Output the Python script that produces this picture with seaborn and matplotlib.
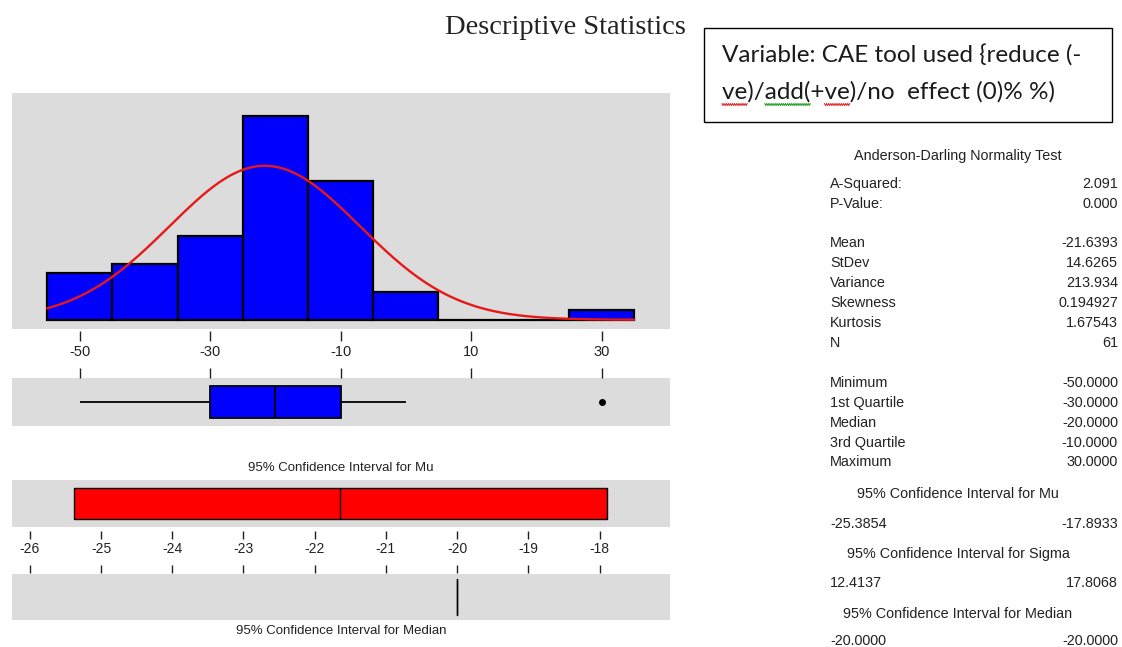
import numpy as np
import pandas as pd
import matplotlib
matplotlib.use("Agg")
import matplotlib.pyplot as plt
import seaborn as sns
from matplotlib.patches import Rectangle
from matplotlib.font_manager import FontProperties

# ---------------- data ----------------
bin_values = [-50, -40, -30, -20, -10, 0, 10, 20, 30]
bin_counts = [5, 6, 9, 22, 15, 3, 0, 0, 1]
bin_edges = [-55, -45, -35, -25, -15, -5, 5, 15, 25, 35]
hist_ticks = [-50, -30, -10, 10, 30]
ci_ticks = [-26, -25, -24, -23, -22, -21, -20, -19, -18]

mean_val = -21.6393
stdev_val = 14.6265
n_obs = 61
ci_mu = [-25.3854, -17.8933]
ci_median = [-20.0, -20.0]

title_text = "Descriptive Statistics"
variable_lines = ["Variable: CAE tool used {reduce (-", "ve)/add(+ve)/no  effect (0)% %)"]

ad_title = "Anderson-Darling Normality Test"
stat_rows = [
    ("A-Squared:", "2.091", 184),
    ("P-Value:", "0.000", 204),
    ("Mean", "-21.6393", 243),
    ("StDev", "14.6265", 263),
    ("Variance", "213.934", 283),
    ("Skewness", "0.194927", 303),
    ("Kurtosis", "1.67543", 323),
    ("N", "61", 343),
    ("Minimum", "-50.0000", 383),
    ("1st Quartile", "-30.0000", 403),
    ("Median", "-20.0000", 423),
    ("3rd Quartile", "-10.0000", 443),
    ("Maximum", "30.0000", 462),
]
ci_headers = [
    ("95% Confidence Interval for Mu", 494, "-25.3854", "-17.8933", 524),
    ("95% Confidence Interval for Sigma", 554, "12.4137", "17.8068", 583),
    ("95% Confidence Interval for Median", 614, "-20.0000", "-20.0000", 641),
]

# ---------------- style ----------------
sns.set_style("white")
plt.rcParams["font.family"] = ["Liberation Sans", "DejaVu Sans"]

W, H = 1122, 647
fig = plt.figure(figsize=(W / 100, H / 100), dpi=100)
fig.patch.set_facecolor("white")


def ax_rect(x0, y0, x1, y1):
    return [x0 / W, 1 - y1 / H, (x1 - x0) / W, (y1 - y0) / H]


def fx(x):
    return x / W


def fy(y):
    return 1 - y / H


GRAY = "#dcdcdc"
BLUE = "#0000ff"
RED = "#ff0000"
TXT = "#222222"
PX = 0.72  # points per pixel

ax_h = fig.add_axes(ax_rect(12, 93, 670, 329))
ax_b = fig.add_axes(ax_rect(12, 378, 670, 426))
ax_m = fig.add_axes(ax_rect(12, 480, 670, 527))
ax_d = fig.add_axes(ax_rect(12, 574, 670, 620))

for ax in (ax_h, ax_b, ax_m, ax_d):
    ax.set_facecolor(GRAY)
    for s in ax.spines.values():
        s.set_visible(False)
    ax.set_yticks([])

# ---------------- histogram ----------------
df = pd.DataFrame({"value": bin_values, "count": bin_counts})
sns.histplot(data=df, x="value", weights="count", bins=bin_edges, ax=ax_h,
             color=BLUE, edgecolor="black", linewidth=1.6, alpha=1)
xs = np.linspace(bin_edges[0], bin_edges[-1], 400)
pdf = np.exp(-0.5 * ((xs - mean_val) / stdev_val) ** 2) / (stdev_val * np.sqrt(2 * np.pi))
bw = bin_edges[1] - bin_edges[0]
sns.lineplot(x=xs, y=pdf * n_obs * bw, ax=ax_h, color="#e81818", linewidth=1.7)
ax_h.set_xlim(-60.4, 40.5)
ax_h.set_ylim(-1.0, 24.5)
ax_h.set_xlabel("")
ax_h.set_ylabel("")
ax_h.set_yticks([])
ax_h.set_xticks(hist_ticks)
ax_h.set_xticklabels([str(t) for t in hist_ticks])
ax_h.spines["bottom"].set_position(("outward", 1.5 * PX))
ax_h.tick_params(axis="x", direction="out", length=10 * PX, width=1.0,
                 pad=3.5, labelsize=10.5, colors=TXT, bottom=True)

# ---------------- boxplot ----------------
raw = np.repeat(bin_values, bin_counts)
sns.boxplot(x=raw, ax=ax_b, orient="h", width=0.667, color=BLUE, saturation=1,
            linecolor="black", linewidth=1.3, whis=1.5, showcaps=False,
            flierprops=dict(marker="o", markerfacecolor="black",
                            markeredgecolor="black", markersize=4))
ax_b.set_xlim(-60.4, 40.5)
ax_b.set_ylim(0.5, -0.5)
ax_b.set_yticks([])
ax_b.set_xticks(hist_ticks)
ax_b.xaxis.set_ticks_position("top")
ax_b.tick_params(axis="x", direction="out", length=10 * PX, width=1.0, colors=TXT,
                 labeltop=False, labelbottom=False, top=True, bottom=False)

# ---------------- CI for mu ----------------
ax_m.barh(0, ci_mu[1] - ci_mu[0], left=ci_mu[0], height=0.66,
          color=RED, edgecolor="black", linewidth=1.0)
ax_m.vlines(mean_val, -0.33, 0.33, color="black", linewidth=1.0)
ax_m.set_xlim(-26.25, -17.01)
ax_m.set_ylim(-0.5, 0.5)
ax_m.set_xticks(ci_ticks)
ax_m.set_xticklabels([str(t) for t in ci_ticks])
ax_m.spines["bottom"].set_position(("outward", 4 * PX))
ax_m.tick_params(axis="x", direction="out", length=8 * PX, width=1.0,
                 pad=2.5, labelsize=10, colors=TXT, bottom=True)

# ---------------- CI for median ----------------
ax_d.axvline(ci_median[0], ymin=0.1, ymax=0.9, color="black", linewidth=1.0)
ax_d.axvline(ci_median[1], ymin=0.1, ymax=0.9, color="black", linewidth=1.0)
ax_d.set_xlim(-26.25, -17.01)
ax_d.set_xticks(ci_ticks)
ax_d.xaxis.set_ticks_position("top")
ax_d.spines["top"].set_position(("outward", 1 * PX))
ax_d.tick_params(axis="x", direction="out", length=8 * PX, width=1.0, colors=TXT,
                 labeltop=False, labelbottom=False, top=True, bottom=False)

# ---------------- titles & labels ----------------
fig.text(fx(565), fy(27), title_text, ha="center", va="center",
         fontsize=20.5, family=["Liberation Serif", "DejaVu Serif"], color=TXT)
fig.text(fx(341), fy(468), "95% Confidence Interval for Mu", ha="center", va="center",
         fontsize=9.5, color=TXT)
fig.text(fx(341), fy(631), "95% Confidence Interval for Median", ha="center", va="center",
         fontsize=9.5, color=TXT)

# variable box
fig.patches.append(Rectangle((fx(704), fy(122)), (1112 - 704) / W, (122 - 28) / H,
                             transform=fig.transFigure, facecolor="white",
                             edgecolor="black", linewidth=1.0))
VAR_FS = 17.5
var_font = FontProperties(family=["Lato", "DejaVu Sans"], size=VAR_FS)
fig.text(fx(722), fy(63), variable_lines[0], ha="left", va="baseline",
         fontproperties=var_font, color="#1a1a1a")
fig.text(fx(722), fy(99), variable_lines[1], ha="left", va="baseline",
         fontproperties=var_font, color="#1a1a1a")

# spell-check squiggles under parts of the second line
renderer = fig.canvas.get_renderer()


def text_px(s):
    w, _, _ = renderer.get_text_width_height_descent(s, var_font, ismath=False)
    return w


line2 = variable_lines[1]
marks = [("ve", 0, "#e03030"), ("add(", line2.index("add("), "#30a030"),
         ("ve", line2.index("+ve") + 1, "#e03030")]
for word, start, col in marks:
    x0 = 722 + text_px(line2[:start]) if start > 0 else 722
    x1 = 722 + text_px(line2[:start + len(word)])
    n = max(int((x1 - x0) / 2), 2)
    sx = np.linspace(x0, x1, 2 * n + 1)
    sy = 104.5 + np.where(np.arange(sx.size) % 2 == 0, -1.0, 1.0)
    fig.add_artist(plt.Line2D(sx / W, 1 - sy / H, transform=fig.transFigure,
                              color=col, linewidth=0.8))

# statistics table
LX, RX, CX = 830, 1118, 958
ST_FS = 10.4
fig.text(fx(CX), fy(156), ad_title, ha="center", va="center", fontsize=ST_FS, color=TXT)
for lab, val, y in stat_rows:
    fig.text(fx(LX), fy(y), lab, ha="left", va="center", fontsize=ST_FS, color=TXT)
    fig.text(fx(RX), fy(y), val, ha="right", va="center", fontsize=ST_FS, color=TXT)
for head, yh, lo, hi, yv in ci_headers:
    fig.text(fx(CX), fy(yh), head, ha="center", va="center", fontsize=ST_FS, color=TXT)
    fig.text(fx(LX), fy(yv), lo, ha="left", va="center", fontsize=ST_FS, color=TXT)
    fig.text(fx(RX), fy(yv), hi, ha="right", va="center", fontsize=ST_FS, color=TXT)

fig.savefig("out.png", dpi=100)
